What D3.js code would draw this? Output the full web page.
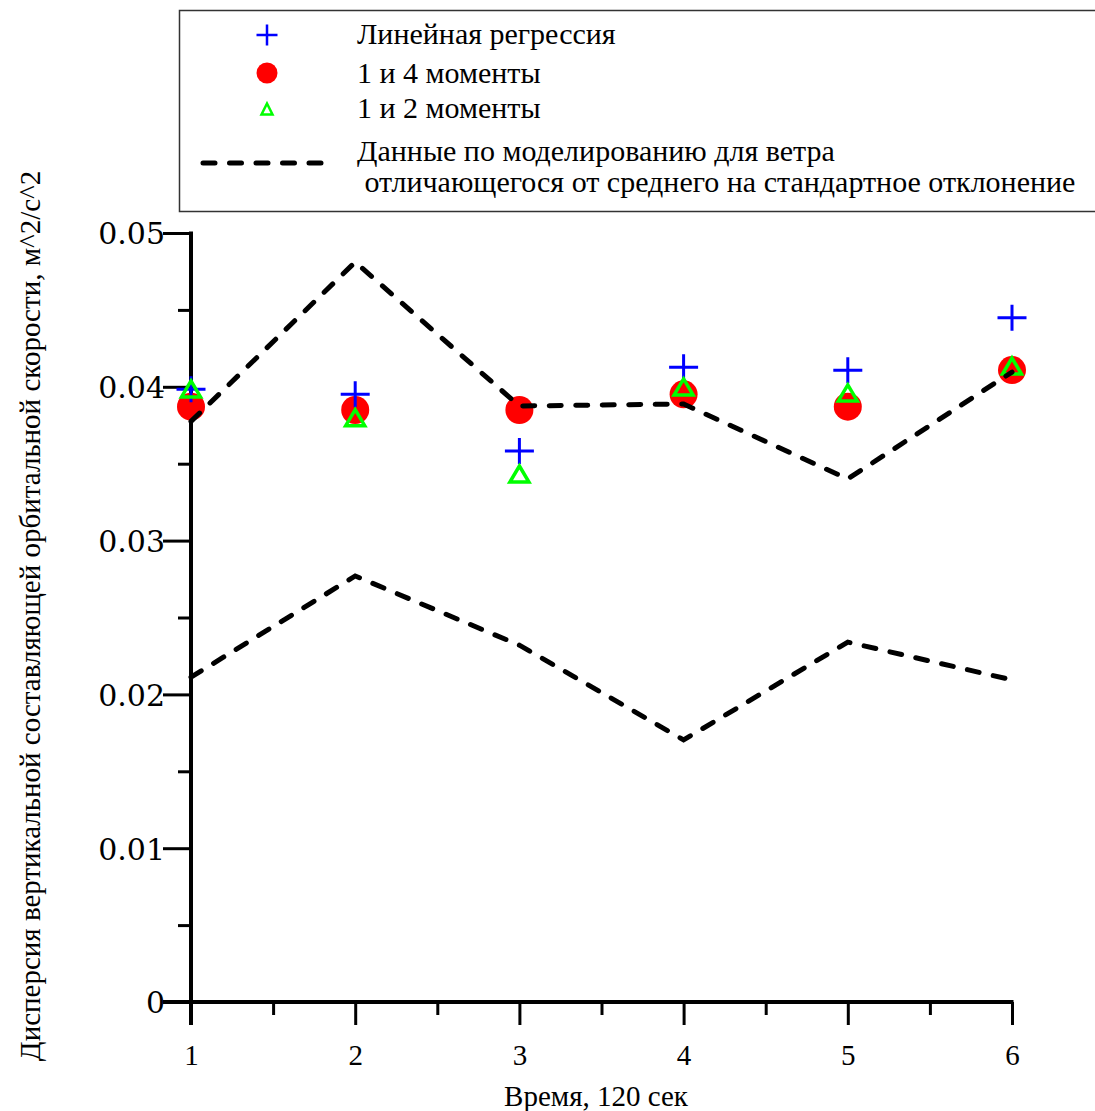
<!DOCTYPE html>
<html>
<head>
<meta charset="utf-8">
<script src="https://cdn.jsdelivr.net/npm/d3@7"></script>
<style>
  html, body { margin: 0; padding: 0; background: #fff; }
  svg { display: block; }
  .serif { font-family: "Liberation Serif", "Tinos", "Times New Roman", Times, "DejaVu Serif", serif; }
  .wide { font-family: "DejaVu Serif", "Liberation Serif", serif; }
</style>
</head>
<body>
<svg id="chart" width="1095" height="1111"></svg>
<script>
// Time steps (units of 120 s)
const steps = [1, 2, 3, 4, 5, 6];

// Variance of the vertical orbital velocity component, m^2/s^2
const linearRegression = [0.03984, 0.03951, 0.03583, 0.04127, 0.04107, 0.04449];
const moments14 = [0.03871, 0.03849, 0.03849, 0.03951, 0.03871, 0.04109];
const moments12 = [0.03986, 0.03799, 0.03433, 0.03999, 0.03960, 0.04135];

// Simulated variance for wind one standard deviation above / below the mean
const simUpper = [0.03775, 0.04811, 0.03875, 0.03888, 0.03401, 0.04096];
const simLower = [0.02112, 0.02770, 0.02320, 0.01704, 0.02340, 0.02094];

// Axis ticks
const xTicks = [1, 2, 3, 4, 5, 6];
const xMinorTicks = [1.5, 2.5, 3.5, 4.5, 5.5];
const yTicks = [0, 0.01, 0.02, 0.03, 0.04, 0.05];
const yTickLabels = ["0", "0.01", "0.02", "0.03", "0.04", "0.05"];
const yMinorTicks = [0.005, 0.015, 0.025, 0.035, 0.045];

// Legend entries
const legendLabels = [
  "Линейная регрессия",
  "1 и 4 моменты",
  "1 и 2 моменты",
  "Данные по моделированию для ветра",
  " отличающегося от среднего на стандартное отклонение"
];

const xTitle = "Время, 120 сек";
const yTitle = "Дисперсия вертикальной составляющей орбитальной скорости, м^2/с^2";

const svg = d3.select("#chart");

const x = d3.scaleLinear().domain([1, 6]).range([191, 1012]);
const y = d3.scaleLinear().domain([0, 0.05]).range([1002, 233]);

// ---- Axes ----
const axisColor = "#000";

const yAxis = d3.axisLeft(y).tickValues(yTicks).tickSize(28)
  .tickFormat((d, i) => yTickLabels[i]).tickPadding(0);
const yAxisMinor = d3.axisLeft(y).tickValues(yMinorTicks).tickSize(13).tickFormat("");

const xAxis = d3.axisBottom(x).tickValues(xTicks).tickSize(23).tickFormat(d3.format("d"));
const xAxisMinor = d3.axisBottom(x).tickValues(xMinorTicks).tickSize(13).tickFormat("");

const gy = svg.append("g").attr("transform", `translate(${x(1)},0)`).call(yAxis);
const gyMinor = svg.append("g").attr("transform", `translate(${x(1)},0)`).call(yAxisMinor);
const gx = svg.append("g").attr("transform", `translate(0,${y(0)})`).call(xAxis);
const gxMinor = svg.append("g").attr("transform", `translate(0,${y(0)})`).call(xAxisMinor);

[gy, gyMinor, gx, gxMinor].forEach(g => {
  g.attr("font-family", null).attr("font-size", null);
  g.select(".domain").remove();
  g.selectAll(".tick line").attr("stroke", axisColor).attr("stroke-width", 3);
});

// heavier spines; the y spine runs on below the x axis like the first tick
svg.append("line")
  .attr("x1", x(1)).attr("x2", x(1))
  .attr("y1", y(0.05) - 1.5).attr("y2", y(0) + 23)
  .attr("stroke", axisColor).attr("stroke-width", 4);
svg.append("line")
  .attr("x1", x(1) - 28).attr("x2", x(6) + 1.5)
  .attr("y1", y(0)).attr("y2", y(0))
  .attr("stroke", axisColor).attr("stroke-width", 4);

gy.selectAll(".tick text")
  .attr("class", "wide")
  .style("font-size", "30px")
  .attr("fill", "#000")
  .attr("x", -26)
  .attr("dy", "0.36em");

gx.selectAll(".tick text")
  .attr("class", "serif")
  .style("font-size", "29px")
  .attr("fill", "#000")
  .attr("y", 42)
  .attr("dy", "0.71em");

// Axis titles
svg.append("text")
  .attr("class", "serif")
  .attr("x", 596).attr("y", 1106)
  .attr("text-anchor", "middle")
  .style("font-size", "29px")
  .text(xTitle);

svg.append("text")
  .attr("class", "serif")
  .attr("transform", `translate(40,616) rotate(-90)`)
  .attr("text-anchor", "middle")
  .style("font-size", "29px")
  .text(yTitle);

// ---- Markers ----
const plusPath = (w, h) => `M${-w / 2},0H${w / 2}M0,${-h / 2}V${h / 2}`;
const triPath = (w, h) => `M0,${-h / 2}L${w / 2},${h / 2}L${-w / 2},${h / 2}Z`;

// 1 и 4 моменты — filled red circles
svg.append("g").selectAll("circle")
  .data(steps.map((s, i) => [s, moments14[i]]))
  .join("circle")
  .attr("cx", d => x(d[0])).attr("cy", d => y(d[1]))
  .attr("r", 14)
  .attr("fill", "#ff0000");

// Линейная регрессия — blue crosses
svg.append("g").selectAll("path")
  .data(steps.map((s, i) => [s, linearRegression[i]]))
  .join("path")
  .attr("transform", d => `translate(${x(d[0])},${y(d[1])})`)
  .attr("d", plusPath(29, 26))
  .attr("fill", "none")
  .attr("stroke", "#0000ff")
  .attr("stroke-width", 3);

// 1 и 2 моменты — hollow green triangles
svg.append("g").selectAll("path")
  .data(steps.map((s, i) => [s, moments12[i]]))
  .join("path")
  .attr("transform", d => `translate(${x(d[0])},${y(d[1])})`)
  .attr("d", triPath(19, 16))
  .attr("fill", "none")
  .attr("stroke", "#00ff00")
  .attr("stroke-width", 3.5);

// Simulation curves — dashed black
const line = d3.line().x(d => x(d[0])).y(d => y(d[1]));
[simUpper, simLower].forEach(series => {
  svg.append("path")
    .datum(steps.map((s, i) => [s, series[i]]))
    .attr("d", line)
    .attr("fill", "none")
    .attr("stroke", "#000")
    .attr("stroke-width", 5)
    .attr("stroke-linecap", "round")
    .attr("stroke-dasharray", "12,14.5");
});

// ---- Legend ----
const legend = svg.append("g");
legend.append("rect")
  .attr("x", 179.5).attr("y", 10.5)
  .attr("width", 930).attr("height", 201)
  .attr("fill", "#fff")
  .attr("stroke", "#333").attr("stroke-width", 1.5);

const lgX = 267, lgTextX = 357;
legend.append("path")
  .attr("transform", `translate(${lgX},35)`)
  .attr("d", plusPath(21, 21))
  .attr("stroke", "#0000ff").attr("stroke-width", 2.5).attr("fill", "none");
legend.append("circle")
  .attr("cx", lgX).attr("cy", 73).attr("r", 10.5)
  .attr("fill", "#ff0000");
legend.append("path")
  .attr("transform", `translate(${lgX},109)`)
  .attr("d", triPath(11, 11))
  .attr("stroke", "#00ff00").attr("stroke-width", 2.5).attr("fill", "none");
legend.append("line")
  .attr("x1", 203).attr("x2", 330).attr("y1", 163).attr("y2", 163)
  .attr("stroke", "#000").attr("stroke-width", 5)
  .attr("stroke-linecap", "round").attr("stroke-dasharray", "12,14.5");

const legendBaselines = [44, 83, 118, 161, 192];
legend.selectAll("text.lbl")
  .data(legendLabels)
  .join("text")
  .attr("class", "lbl serif")
  .attr("x", lgTextX)
  .attr("y", (d, i) => legendBaselines[i])
  .style("font-size", "30px")
  .style("white-space", "pre")
  .text(d => d);
</script>
</body>
</html>
